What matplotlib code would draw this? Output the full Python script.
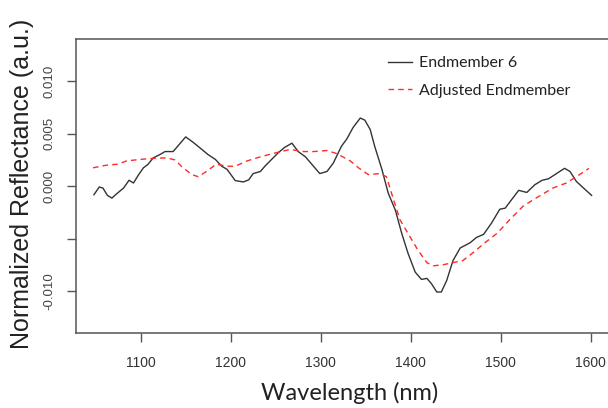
import matplotlib
matplotlib.use("Agg")
import matplotlib.pyplot as plt

# Endmember 6 (black solid)
em_wl = [1048, 1054, 1058, 1063, 1068, 1073, 1081, 1087, 1092, 1097, 1103, 1108, 1114,
         1121, 1127, 1136, 1144, 1150, 1158, 1168, 1175, 1183, 1190, 1196, 1205, 1214,
         1220, 1225, 1233, 1238, 1246, 1253, 1260, 1268, 1275, 1283, 1292, 1299, 1307,
         1314, 1323, 1329, 1336, 1344, 1349, 1355, 1360, 1368, 1375, 1383, 1390, 1397,
         1405, 1412, 1418, 1423, 1429, 1434, 1440, 1447, 1455, 1466, 1473, 1481, 1490,
         1499, 1505, 1512, 1520, 1529, 1538, 1546, 1553, 1562, 1571, 1577, 1584, 1592,
         1601]
em_val = [-0.00082, -0.00008, -0.00018, -0.00088, -0.00114, -0.00075, -0.00018, 0.00056,
          0.0003, 0.001, 0.00175, 0.00207, 0.0027, 0.003, 0.0033, 0.0033, 0.0041, 0.0047,
          0.0042, 0.0035, 0.003, 0.00255, 0.0019, 0.0016, 0.00053, 0.0004, 0.0006, 0.0012,
          0.0014, 0.0019, 0.0026, 0.0032, 0.0037, 0.0041, 0.0033, 0.0028, 0.0019, 0.0012,
          0.0014, 0.0022, 0.0038, 0.0045, 0.0056, 0.0065, 0.0063, 0.0054, 0.0038, 0.0016,
          -0.00066, -0.0023, -0.0045, -0.0064, -0.0082, -0.0089, -0.0088, -0.0093, -0.0101,
          -0.0101, -0.009, -0.0071, -0.0059, -0.0054, -0.0049, -0.0046, -0.0035, -0.0022,
          -0.0021, -0.0013, -0.0004, -0.0006, 0.00014, 0.00056, 0.0007, 0.0012, 0.0017,
          0.0014, 0.00046, -0.00018, -0.00088]

# Adjusted endmember (red dashed)
adj_wl = [1047, 1062, 1075, 1084, 1099, 1114, 1129, 1138, 1147, 1157, 1164, 1173, 1184,
          1196, 1205, 1218, 1233, 1251, 1266, 1281, 1292, 1307, 1318, 1333, 1342, 1353,
          1366, 1373, 1381, 1388, 1399, 1408, 1418, 1425, 1436, 1447, 1458, 1470, 1481,
          1496, 1510, 1525, 1540, 1558, 1573, 1584, 1598]
adj_val = [0.00175, 0.002, 0.0021, 0.0024, 0.00255, 0.00265, 0.0027, 0.0025, 0.00175,
           0.0011, 0.0009, 0.0014, 0.0021, 0.0019, 0.0019, 0.0024, 0.0028, 0.0032, 0.0035,
           0.0033, 0.0033, 0.0034, 0.0031, 0.0024, 0.00175, 0.0011, 0.0012, 0.0009,
           -0.0013, -0.0032, -0.0048, -0.0061, -0.0073, -0.0076, -0.0075, -0.0073, -0.0071,
           -0.0063, -0.0055, -0.0045, -0.0032, -0.0019, -0.0011, -0.00018, 0.0003, 0.0009,
           0.0017]

XTICKS = [1100, 1200, 1300, 1400, 1500, 1600]
YTICKS = [-0.010, -0.005, 0.0, 0.005, 0.010]
YTICKLABELS = ["-0.010", "", "0.000", "0.005", "0.010"]

W, H = 608, 408
fig = plt.figure(figsize=(W / 100, H / 100), dpi=100)
# axes frame runs past the right edge of the picture (cropped original)
ax = fig.add_axes([75.9 / W, 1 - 333.3 / H, (610.5 - 75.9) / W, (333.3 - 39) / H])

ax.plot(em_wl, em_val, color="#333333", lw=1.0, label="Endmember 6")
ax.plot(adj_wl, adj_val, color="#ff2a2a", lw=1.0, ls=(0, (4, 3)), label="Adjusted Endmember")

ax.set_xlim(1028, 1622)
ax.set_ylim(-0.01404, 0.01404)
ax.set_xticks(XTICKS)
ax.set_xticklabels([str(t) for t in XTICKS], family="Liberation Sans", fontsize=10, color="#333333")
ax.set_yticks(YTICKS)
ax.set_yticklabels(YTICKLABELS, family="Liberation Sans", fontsize=9.5, color="#444444",
                   rotation=90, va="center")
ax.tick_params(axis="both", direction="out", length=6.5, width=1, color="#555555")
ax.tick_params(axis="x", pad=10)
ax.tick_params(axis="y", pad=8.5)
for s in ax.spines.values():
    s.set_color("#555555")
    s.set_linewidth(1.1)

leg = ax.legend(loc="upper left", bbox_to_anchor=(388 / W, 1 - 56 / H),
                bbox_transform=fig.transFigure, frameon=False, borderpad=0,
                borderaxespad=0, handlelength=1.5, handletextpad=0.45, labelspacing=0.85,
                prop={"family": "Lato", "size": 11.5})
for t in leg.get_texts():
    t.set_color("#222222")

fig.text(350 / W, 1 - 393 / H, "Wavelength (nm)", family="Lato", fontsize=17,
         ha="center", va="center", color="#222222")
fig.text(22 / W, 1 - 184 / H, "Normalized Reflectance (a.u.)", family="Liberation Sans",
         fontsize=18, rotation=90, ha="center", va="center", color="#222222")

fig.savefig("out.png", dpi=100)
